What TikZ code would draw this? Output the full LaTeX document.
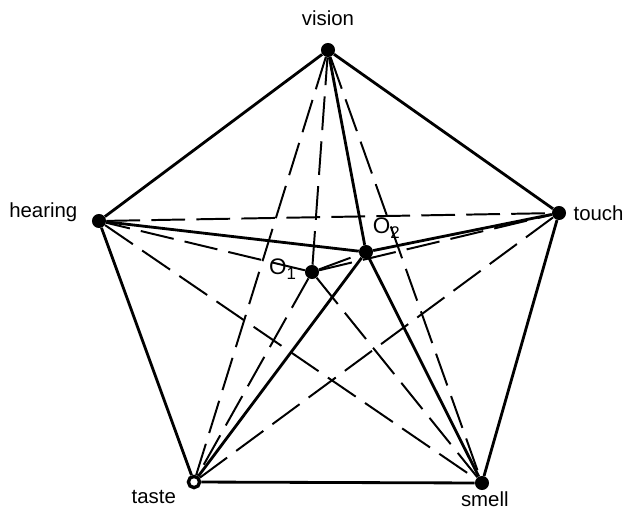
\documentclass[tikz,border=0pt]{standalone}
\usepackage{fontspec}
\setmainfont{Liberation Sans}
\usetikzlibrary{positioning}

\begin{document}
\begin{tikzpicture}[
    x=0.025cm, y=-0.025cm,
    font=\fontsize{14.5}{16}\selectfont,
    dot/.style={circle, fill, inner sep=0pt, minimum size=10pt},
    ring/.style={circle, draw, line width=2.4pt, fill=white, inner sep=0pt, minimum size=8pt},
    lbl/.style={inner sep=0pt},
    olbl/.style={inner sep=0pt, font=\fontsize{16}{18}\selectfont},
    link/.style={line width=2pt},
    chord/.style={line width=1.4pt, dash pattern=on 24pt off 8pt}
]
\useasboundingbox (0,0) rectangle (630,514);

% senses and the two centres
\node[dot] (vis) at (328,50) {};
\node[dot] (hear) at (99,221) {};
\node[dot] (tch) at (559,213) {};
\node[ring] (tst) at (194,482) {};
\node[dot] (sml) at (482,483) {};
\node[dot] (o1) at (312,272) {};
\node[dot] (o2) at (366,252) {};

\node[lbl, above=12pt of vis] (visl) {vision};
\node[lbl, left=10pt of hear, yshift=6pt] (hearl) {hearing};
\node[lbl, right=5pt of tch] (tchl) {touch};
\node[lbl, below left=2pt and 9pt of tst] (tstl) {taste};
\node[lbl, below=1pt of sml, xshift=2pt] (smll) {smell};
\node[olbl, left=6pt of o1, yshift=2pt] (o1l) {O\raisebox{-0.35ex}{\fontsize{12}{12}\selectfont 1}};
\node[olbl, above right=6pt and 1pt of o2] (o2l) {O\raisebox{-0.35ex}{\fontsize{12}{12}\selectfont 2}};

% outer pentagon
\draw[link] (vis) -- (hear);
\draw[link] (vis) -- (tch);
\draw[link] (hear) -- (tst);
\draw[link] (tst) -- (sml);
\draw[link] (sml) -- (tch);

% diagonals
\draw[chord] (hear) -- (tch);
\draw[chord] (vis) -- (tst);
\draw[chord] (vis) -- (sml);
\draw[chord] (hear) -- (sml);
\draw[chord] (tch) -- (tst);

% O2 spokes
\draw[link] (o2) -- (vis);
\draw[link] (o2) -- (hear);
\draw[link] (o2) -- (tch);
\draw[link] (o2) -- (tst);
\draw[link] (o2) -- (sml);

% O1 spokes
\draw[chord] (o1) -- (vis);
\draw[chord] (o1) -- (hear);
\draw[chord] (o1) -- (tch);
\draw[chord] (o1) -- (tst);
\draw[chord] (o1) -- (sml);
\draw[chord] (o1) -- (o2);
\end{tikzpicture}
\end{document}
